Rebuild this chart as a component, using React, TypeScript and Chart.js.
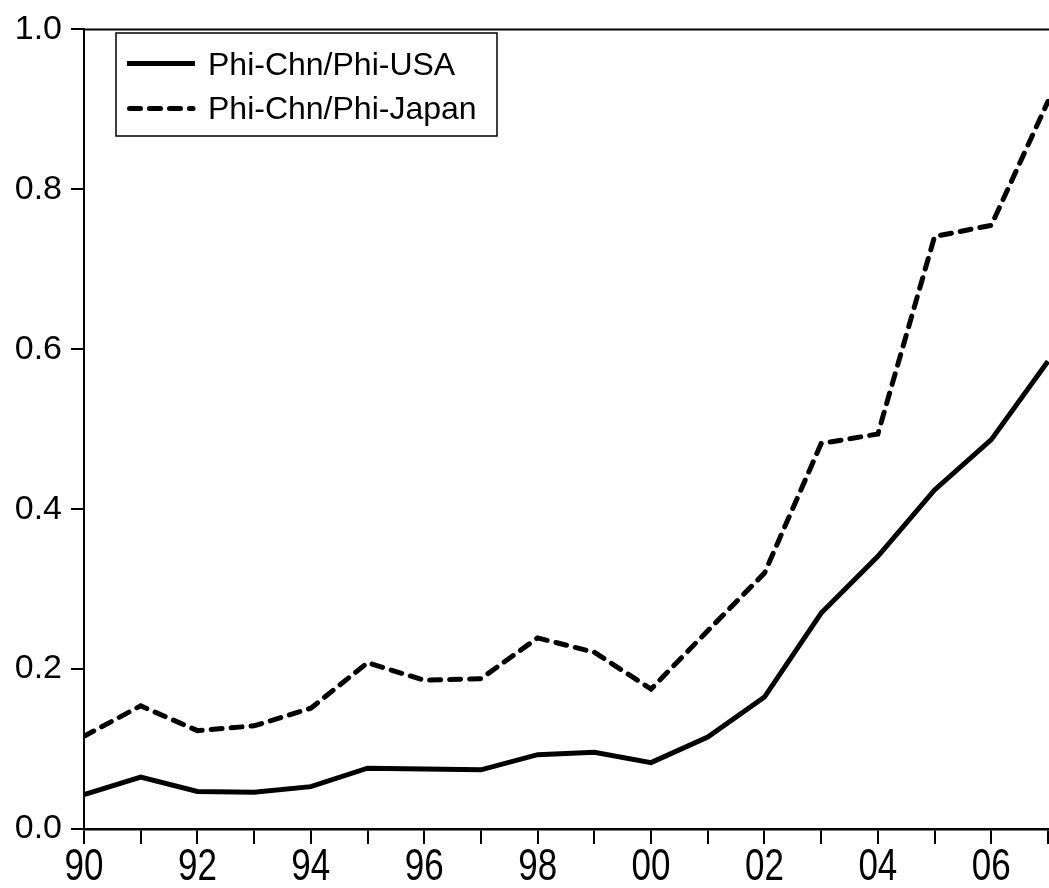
import React, { useEffect, useRef } from "react";
import { Chart, registerables } from "chart.js";

Chart.register(...registerables);

const years = [1990, 1991, 1992, 1993, 1994, 1995, 1996, 1997, 1998, 1999, 2000, 2001, 2002, 2003, 2004, 2005, 2006, 2007];
const usaRatio = [0.043, 0.065, 0.047, 0.046, 0.053, 0.076, 0.075, 0.074, 0.093, 0.096, 0.083, 0.115, 0.165, 0.270, 0.341, 0.424, 0.487, 0.585];
const japanRatio = [0.116, 0.154, 0.123, 0.129, 0.151, 0.208, 0.186, 0.188, 0.239, 0.221, 0.175, 0.248, 0.320, 0.482, 0.494, 0.741, 0.755, 0.910];
const seriesLabels = ["Phi-Chn/Phi-USA", "Phi-Chn/Phi-Japan"];
const xTickYears = [1990, 1992, 1994, 1996, 1998, 2000, 2002, 2004, 2006];
const xTickLabels = ["90", "92", "94", "96", "98", "00", "02", "04", "06"];

const FONT = "'Liberation Sans', Arial, Helvetica, sans-serif";
const DASH = [11, 9];

const framePlugin = {
  id: "frame",
  afterDraw(chart: any) {
    const ctx = chart.ctx;
    const area = chart.chartArea;
    const xs = chart.scales.x;
    ctx.save();
    // top border
    ctx.strokeStyle = "#000";
    ctx.lineWidth = 2;
    ctx.beginPath();
    ctx.moveTo(area.left - 1, area.top);
    ctx.lineTo(area.right + 20, area.top);
    ctx.stroke();

    // x tick labels (vertically stretched as in the reference)
    ctx.fillStyle = "#000";
    ctx.font = `35px ${FONT}`;
    ctx.textAlign = "center";
    ctx.textBaseline = "alphabetic";
    xTickYears.forEach((yr, i) => {
      const px = xs.getPixelForValue(yr);
      ctx.save();
      ctx.translate(px, area.bottom + 51);
      ctx.scale(1, 1.28);
      ctx.fillText(xTickLabels[i], 0, 0);
      ctx.restore();
    });

    // legend
    const bx = 116, by = 33, bw = 381, bh = 103;
    ctx.lineWidth = 1.5;
    ctx.strokeStyle = "#000";
    ctx.strokeRect(bx, by, bw, bh);
    const rows = [63.5, 108.5];
    const base = [75, 118.5];
    chart.data.datasets.forEach((ds: any, i: number) => {
      ctx.save();
      ctx.lineWidth = 5;
      const dashed = ds.borderDash && ds.borderDash.length;
      ctx.lineCap = dashed ? "round" : "butt";
      ctx.setLineDash(ds.borderDash || []);
      ctx.beginPath();
      ctx.moveTo(dashed ? 129.5 : 127, rows[i]);
      ctx.lineTo(dashed ? 193 : 195, rows[i]);
      ctx.stroke();
      ctx.restore();
      ctx.font = `32px ${FONT}`;
      ctx.textAlign = "left";
      ctx.textBaseline = "alphabetic";
      ctx.fillStyle = "#000";
      ctx.fillText(ds.label, 208, base[i]);
    });
    ctx.restore();
  },
};

export default function App() {
  const ref = useRef<HTMLCanvasElement | null>(null);
  useEffect(() => {
    if (!ref.current) return;
    const chart = new Chart(ref.current, {
      type: "line",
      data: {
        datasets: [
          {
            label: seriesLabels[0],
            data: years.map((y, i) => ({ x: y, y: usaRatio[i] })),
            borderColor: "#000",
            borderWidth: 5,
            pointRadius: 0,
            borderDash: [],
            tension: 0,
            fill: false,
          },
          {
            label: seriesLabels[1],
            data: years.map((y, i) => ({ x: y, y: japanRatio[i] })),
            borderColor: "#000",
            borderWidth: 5,
            pointRadius: 0,
            borderDash: DASH,
            borderCapStyle: "round",
            tension: 0,
            fill: false,
          },
        ],
      },
      options: {
        responsive: false,
        animation: false,
        devicePixelRatio: 1,
        layout: { padding: { top: 25, left: 0, right: 1, bottom: 0 } },
        plugins: { legend: { display: false }, tooltip: { enabled: false } },
        scales: {
          x: {
            type: "linear",
            min: 1990,
            max: 2007.3,
            afterFit: (s: any) => {
              s.height = 59;
            },
            afterBuildTicks: (s: any) => {
              s.ticks = years.map((y) => ({ value: y }));
            },
            ticks: { display: false },
            grid: {
              drawOnChartArea: false,
              drawTicks: true,
              tickLength: 15,
              color: "#000",
              lineWidth: 2,
            },
            border: { display: true, color: "#000", width: 2.5 },
          },
          y: {
            min: 0,
            max: 1,
            afterFit: (s: any) => {
              s.width = 84;
            },
            ticks: {
              stepSize: 0.2,
              color: "#000",
              padding: 9,
              font: { family: FONT, size: 34 },
              callback: (v: any) => Number(v).toFixed(1),
            },
            grid: {
              drawOnChartArea: false,
              drawTicks: true,
              tickLength: 13,
              color: "#000",
              lineWidth: 2,
            },
            border: { display: true, color: "#000", width: 2 },
          },
        },
      },
      plugins: [framePlugin],
    } as any);
    return () => chart.destroy();
  }, []);
  return (
    <div style={{ position: "fixed", left: 0, top: 0, width: 1049, height: 888, overflow: "hidden", background: "#fff" }}>
      <canvas ref={ref} width={1066} height={888} style={{ display: "block" }} />
    </div>
  );
}
